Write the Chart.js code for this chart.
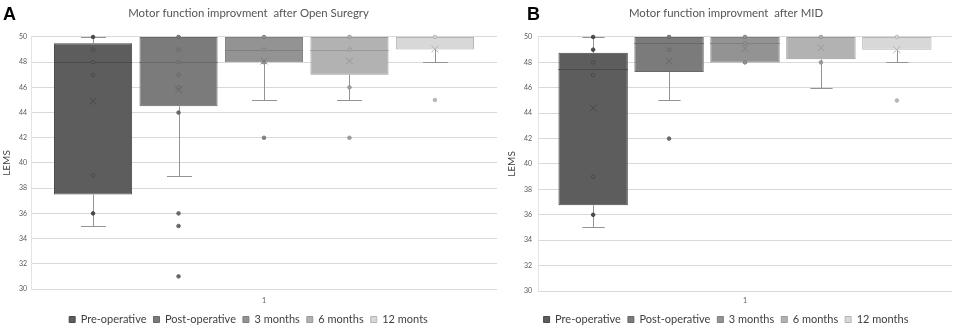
<!DOCTYPE html>
<html><head><meta charset="utf-8">
<script src="https://cdn.jsdelivr.net/npm/chart.js@4.4.1/dist/chart.umd.min.js"></script>
<style>
html,body{margin:0;padding:0;background:#fff;}
#wrap{position:relative;width:959px;height:335px;overflow:hidden;background:#fff;}
#ca{position:absolute;left:0;top:0;width:500px;height:335px;}
#cb{position:absolute;left:500px;top:0;width:459px;height:335px;}
canvas{display:block;}
</style></head><body>
<div id="wrap">
  <div id="ca"><canvas id="chartA" width="500" height="335"></canvas></div>
  <div id="cb"><canvas id="chartB" width="459" height="335"></canvas></div>
</div>
<script>
// ---- data ----
const categories = ['1'];
const seriesNamesA = ['Pre-operative', 'Post-operative', '3 months', '6 months', '12 monts'];
const seriesNamesB = ['Pre-operative', 'Post-operative', '3 months', '6 months', '12 months'];
const yTicks = [30, 32, 34, 36, 38, 40, 42, 44, 46, 48, 50];

// Panel A: Open surgery
const lowA    = [35, 39, 45, 45, 48];
const q1A     = [37.5, 44.5, 48, 47, 49];
const medianA = [48, 48, 49, 49, 50];
const q3A     = [49.5, 50, 50, 50, 50];
const highA   = [50, 50, 50, 50, 50];
const meanA   = [44.9, 45.8, 48.1, 48.1, 49.05];
const pointsA = [
  [50, 49, 48, 47, 39, 36],
  [50, 49, 48, 47, 46, 44, 36, 35, 31],
  [50, 49, 48, 42],
  [50, 49, 46, 42],
  [50, 45]
];

// Panel B: MID
const lowB    = [35, 45, 48, 46, 48];
const q1B     = [36.75, 47.25, 48, 48.25, 49];
const medianB = [47.5, 49.5, 49.5, 50, 50];
const q3B     = [48.75, 50, 50, 50, 50];
const highB   = [50, 50, 50, 50, 50];
const meanB   = [44.4, 48.1, 49.1, 49.15, 49.0];
const pointsB = [
  [50, 49, 48, 47, 39, 36],
  [50, 49, 42],
  [50, 49.5, 48],
  [50, 48],
  [50, 45]
];

// ---- styles ----
const fills   = ['#5d5d5d', '#7b7b7b', '#939393', '#b2b2b2', '#d8d8d8'];
const borders = ['#4a4a4a', '#686868', '#7f7f7f', '#999999', '#b5b5b5'];
const whiskerColor = '#939393';
const FONT = 'Lato, "Open Sans", sans-serif';

function buildDatasets(names, low, q1, med, q3, high, mean, pts) {
  return names.map((n, i) => ({
    label: n,
    data: [[q1[i], q3[i]]],
    backgroundColor: fills[i],
    borderColor: borders[i],
    borderWidth: 1,
    borderSkipped: false,
    stats: {low: low[i], q1: q1[i], median: med[i], q3: q3[i], high: high[i], mean: mean[i], points: pts[i]}
  }));
}

const crisp = v => Math.round(v) + 0.5;

const boxExtras = {
  id: 'boxExtras',
  afterDatasetsDraw(chart) {
    const ys = chart.scales.y;
    const ctx = chart.ctx;
    chart.data.datasets.forEach((ds, i) => {
      const meta = chart.getDatasetMeta(i);
      if (!chart.isDatasetVisible(i)) return;
      const bar = meta.data[0];
      const cx = crisp(bar.x);
      const w = bar.width;
      const s = ds.stats;
      const capHalf = w * 0.16;
      ctx.save();
      ctx.lineWidth = 1;
      ctx.strokeStyle = whiskerColor;
      if (s.low < s.q1) {
        const y1 = ys.getPixelForValue(s.q1), y2 = crisp(ys.getPixelForValue(s.low));
        ctx.beginPath(); ctx.moveTo(cx, y1); ctx.lineTo(cx, y2);
        ctx.moveTo(cx - capHalf, y2); ctx.lineTo(cx + capHalf, y2); ctx.stroke();
      }
      if (s.high > s.q3) {
        const y1 = ys.getPixelForValue(s.q3), y2 = crisp(ys.getPixelForValue(s.high));
        ctx.beginPath(); ctx.moveTo(cx, y1); ctx.lineTo(cx, y2);
        ctx.moveTo(cx - capHalf, y2); ctx.lineTo(cx + capHalf, y2); ctx.stroke();
      }
      // median
      if (s.median < s.q3 && s.median > s.q1) {
        const ym = crisp(ys.getPixelForValue(s.median));
        ctx.strokeStyle = borders[i];
        ctx.beginPath(); ctx.moveTo(bar.x - w / 2, ym); ctx.lineTo(bar.x + w / 2, ym); ctx.stroke();
      }
      // points
      s.points.forEach(v => {
        const py = ys.getPixelForValue(v);
        ctx.beginPath();
        ctx.arc(bar.x, py, 1.8, 0, Math.PI * 2);
        ctx.fillStyle = (v > s.q3 || v < s.q1) ? borders[i] : fills[i];
        ctx.fill();
        ctx.strokeStyle = borders[i];
        ctx.stroke();
      });
      // mean marker
      const my = ys.getPixelForValue(s.mean);
      const r = 3.5;
      ctx.strokeStyle = borders[i];
      ctx.beginPath();
      ctx.moveTo(bar.x - r, my - r); ctx.lineTo(bar.x + r, my + r);
      ctx.moveTo(bar.x - r, my + r); ctx.lineTo(bar.x + r, my - r);
      ctx.stroke();
      ctx.restore();
    });
  }
};

const panelLetter = {
  id: 'panelLetter',
  afterDraw(chart, args, opts) {
    const ctx = chart.ctx;
    ctx.save();
    ctx.fillStyle = '#000';
    ctx.font = 'bold 18px "Liberation Sans", Arial, sans-serif';
    ctx.textBaseline = 'alphabetic';
    ctx.fillText(opts.text, opts.x, opts.y);
    ctx.restore();
  }
};

function makeChart(id, title, datasets, cfg) {
  return new Chart(document.getElementById(id), {
    type: 'bar',
    data: { labels: categories, datasets },
    options: {
      responsive: false,
      animation: false,
      layout: { padding: { left: 0, right: cfg.padRight, top: 0, bottom: 0 } },
      datasets: { bar: { categoryPercentage: 0.917, barPercentage: 0.914 } },
      plugins: {
        title: {
          display: true, text: title, color: '#555555',
          font: { family: FONT, size: 11.4, weight: 'normal' },
          padding: { top: 6, bottom: cfg.titleBottom }
        },
        legend: {
          position: 'bottom',
          labels: {
            color: '#404040', boxWidth: 6, boxHeight: 6, padding: 7,
            font: { family: FONT, size: 11 }
          }
        },
        tooltip: { enabled: false },
        panelLetter: cfg.letter
      },
      scales: {
        x: {
          grid: { display: false, drawTicks: false },
          border: { display: false },
          ticks: { color: '#595959', font: { family: FONT, size: 7 }, padding: cfg.xPad },
          afterFit: s => { s.height = cfg.xHeight; }
        },
        y: {
          min: 30, max: 50,
          afterBuildTicks: s => { s.ticks = yTicks.map(v => ({ value: v })); },
          grid: { color: '#d9d9d9', drawTicks: false },
          border: { display: true, color: '#e3e3e3' },
          ticks: { color: '#595959', font: { family: FONT, size: 7 }, padding: cfg.yPad },
          title: {
            display: true, text: 'LEMS', color: '#404040',
            font: { family: FONT, size: 10 }, padding: { top: cfg.yTitlePad, bottom: 0 }
          },
          afterFit: s => { s.width = cfg.yWidth; }
        }
      }
    },
    plugins: [boxExtras, panelLetter]
  });
}

makeChart('chartA', 'Motor function improvment  after Open Suregry',
  buildDatasets(seriesNamesA, lowA, q1A, medianA, q3A, highA, meanA, pointsA),
  { padRight: 3, titleBottom: 17.3, xHeight: 18, xPad: 8, yWidth: 31, yPad: 4, yTitlePad: 1,
    letter: { text: 'A', x: 3, y: 20 } });

makeChart('chartB', 'Motor function improvment  after MID',
  buildDatasets(seriesNamesB, lowB, q1B, medianB, q3B, highB, meanB, pointsB),
  { padRight: 7, titleBottom: 17.3, xHeight: 16, xPad: 6, yWidth: 38, yPad: 6, yTitlePad: 6,
    letter: { text: 'B', x: 27, y: 20 } });
</script>
</body></html>
